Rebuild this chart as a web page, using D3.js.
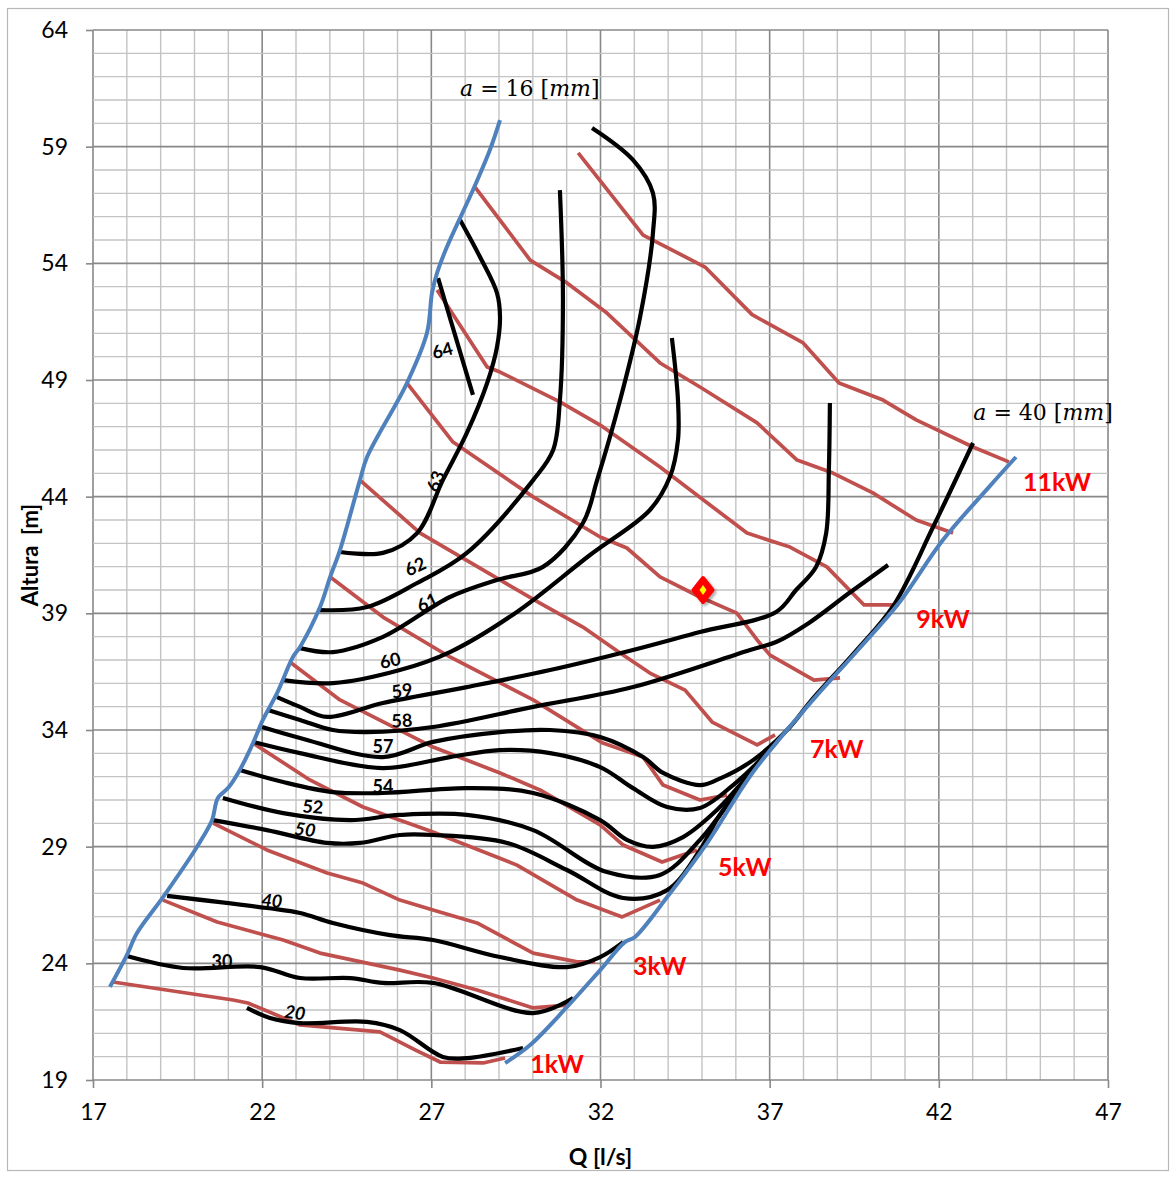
<!DOCTYPE html>
<html>
<head>
<meta charset="utf-8">
<script src="https://cdn.jsdelivr.net/npm/d3@7"></script>
<style>
  body { margin: 0; background: #fff; }
</style>
</head>
<body>
<svg id="chart" width="1176" height="1177" font-family="Lato, 'Open Sans', sans-serif"></svg>
<script>
// ─── DATA (Q [l/s], H [m]) ────────────────────────────────────────────────────
const xTicks = [17, 22, 27, 32, 37, 42, 47];
const yTicks = [19, 24, 29, 34, 39, 44, 49, 54, 59, 64];

// operating boundaries (blade opening a)
const edgeA16 = [[17.50,22.99],[18.00,24.35],[18.30,25.30],[19.07,26.84],[19.96,28.73],[20.25,29.41],
  [20.52,30.14],[20.69,31.09],[20.99,31.51],[21.34,32.29],[21.73,33.44],[22.02,34.43],[22.44,35.58],
  [22.91,37.13],[23.12,37.56],[23.71,39.27],[24.01,40.56],[24.30,41.71],[24.89,44.71],[25.10,45.70],
  [26.28,48.87],[26.87,51.01],[27.02,52.73],[27.17,53.59],[27.46,54.70],[28.23,57.14],[28.73,58.86],[29.03,60.14]];
const edgeA40 = [[29.18,19.73],[29.92,20.50],[31.01,22.13],[31.99,23.71],[32.72,24.91],[33.02,25.13],
  [33.97,26.84],[35.15,29.15],[36.51,32.20],[38.28,35.29],[39.61,37.43],[40.82,39.44],[42.12,42.14],[43.48,44.41],[44.28,45.70]];

// power lines, 1 kW ... 11 kW
const kw1 = [[17.59,23.20],[21.14,22.43],[21.58,22.30],[23.12,21.36],[25.48,21.06],[26.52,20.29],[27.26,19.77],[28.53,19.73],[29.18,19.94]];
const kw2 = [[19.07,26.71],[20.67,25.77],[22.62,25.00],[23.71,24.44],[26.07,23.71],[27.05,23.37],[28.35,22.86],[30.01,22.09],[31.01,22.21]];
const kw3 = [[20.55,30.01],[22.14,28.86],[23.92,27.87],[24.98,27.44],[26.07,26.71],[27.05,26.29],[28.35,25.73],[30.01,24.44],[31.31,24.06],[31.84,24.06]];
const kw4 = [[21.73,33.44],[23.41,31.86],[24.98,30.70],[27.05,29.63],[29.53,28.21],[31.31,26.71],[32.64,25.99],[33.76,26.71]];
const kw5 = [[22.82,36.91],[24.30,35.29],[27.05,33.27],[29.03,32.16],[30.21,31.43],[31.99,29.93],[32.67,29.07],[33.82,28.34],[34.85,28.86]];
const kw6 = [[24.01,40.56],[25.57,38.84],[27.55,37.13],[30.01,35.29],[32.07,33.44],[33.26,32.84],[33.85,31.64],[34.94,31.00],[35.74,31.21]];
const kw7 = [[24.89,44.71],[26.67,42.44],[29.03,40.43],[30.21,39.44],[31.48,38.41],[32.58,37.30],[33.46,36.44],[34.50,35.71],[35.30,34.34],[36.63,33.36],[37.16,33.79]];
const kw8 = [[26.28,48.87],[27.64,46.34],[30.01,43.99],[31.99,42.27],[32.78,41.80],[33.76,40.56],[34.94,39.70],[36.03,39.01],[36.63,37.86],[37.01,37.21],[38.31,36.14],[39.08,36.23]];
const kw9 = [[27.17,52.86],[28.65,49.56],[29.03,49.34],[30.80,48.06],[31.99,47.07],[33.76,45.27],[36.33,42.44],[37.60,41.84],[38.69,40.99],[39.79,39.36],[40.82,39.36]];
const kw10 = [[28.29,57.27],[29.92,54.14],[31.01,53.16],[32.19,51.87],[33.76,49.73],[34.94,48.70],[36.63,47.16],[37.81,45.57],[38.87,45.01],[40.05,44.16],[41.33,43.00],[42.42,42.44]];
const kw11 = [[31.34,58.73],[33.26,55.21],[35.09,53.84],[36.48,51.80],[37.99,50.59],[39.05,48.87],[40.35,48.14],[41.33,47.29],[43.01,46.13],[44.07,45.49]];

// efficiency contours [%]
const eta20 = [[21.55,22.09],[22.23,21.66],[23.12,21.44],[25.10,21.49],[26.07,21.14],[27.34,19.99],[28.05,19.94],[29.71,20.37]];
const eta30 = [[18.00,24.31],[19.66,23.80],[21.94,23.84],[23.12,23.37],[24.60,23.37],[25.57,23.16],[27.05,23.16],[30.01,21.87],[31.19,22.51]];
const eta40 = [[19.19,26.89],[22.14,26.37],[23.12,26.16],[24.09,25.73],[25.78,25.21],[27.05,25.00],[29.03,24.27],[31.01,23.84],[31.99,24.27],[32.67,24.91]];
const eta50 = [[20.55,30.14],[22.14,29.71],[23.92,29.16],[24.89,29.16],[26.07,29.50],[27.05,29.50],[29.24,29.16],[31.01,28.00],[32.67,26.80],[33.97,27.14],[34.94,28.86],[35.47,30.23],[36.15,31.64],[36.66,32.63]];
const eta52 = [[20.84,31.09],[22.62,30.44],[24.60,30.14],[26.07,30.36],[28.05,30.36],[30.01,29.71],[32.19,27.91],[33.76,27.79],[34.94,29.29],[35.53,30.36],[36.24,31.77],[36.86,32.93]];
const eta54 = [[21.34,32.29],[22.62,31.77],[24.09,31.34],[25.57,31.30],[28.05,31.51],[30.01,31.30],[31.99,30.14],[32.78,29.29],[33.55,28.99],[34.44,29.41],[35.44,30.57],[36.12,31.64],[36.95,33.06]];
const eta56 = [[21.73,33.49],[23.12,33.01],[25.57,32.37],[27.55,32.84],[29.03,33.14],[30.51,33.01],[31.99,32.41],[32.96,31.51],[33.97,30.70],[34.94,30.66],[35.92,31.64],[36.51,32.41],[37.25,33.57]];
const eta57 = [[22.00,34.13],[23.12,33.66],[25.57,32.84],[27.05,33.49],[29.03,33.91],[30.51,34.00],[31.99,33.70],[33.26,32.84],[33.85,32.16],[34.94,31.64],[35.44,31.86],[36.51,32.71],[37.60,34.13],[38.19,35.20],[39.52,37.34],[40.65,39.31],[41.83,42.70],[43.01,46.30]];
const eta58 = [[22.17,34.86],[23.12,34.43],[24.09,34.00],[25.10,33.91],[27.05,34.13],[30.01,34.99],[32.96,35.84],[36.42,37.43],[37.19,37.77],[38.16,38.59],[39.35,39.87],[40.50,41.07]];
const eta59 = [[22.44,35.41],[23.12,34.99],[23.92,34.56],[25.57,35.16],[28.05,35.84],[30.51,36.57],[32.96,37.43],[34.94,38.20],[37.19,39.06],[37.78,40.00],[38.37,40.99],[38.67,42.44],[38.75,45.14],[38.78,48.01]];
const eta60 = [[22.62,36.14],[24.09,36.01],[26.07,36.57],[27.55,37.34],[29.53,39.06],[31.69,41.50],[33.46,43.43],[34.05,44.84],[34.29,46.43],[34.29,48.14],[34.11,50.80]];
const eta61 = [[23.12,37.51],[24.09,37.34],[25.57,37.99],[27.55,39.70],[28.94,40.43],[30.30,40.99],[31.48,42.87],[31.90,44.71],[32.58,48.14],[33.17,51.70],[33.55,55.30],[33.55,57.01],[32.96,58.43],[31.75,59.80]];
const eta62 = [[23.71,39.14],[25.10,39.27],[26.58,40.30],[28.05,41.59],[30.01,44.71],[30.60,46.00],[30.80,48.14],[30.89,52.43],[30.80,57.14]];
const eta63 = [[24.30,41.63],[25.57,41.59],[26.58,42.44],[27.34,44.71],[28.05,46.73],[28.65,48.87],[28.94,50.41],[29.03,51.70],[28.94,52.73],[28.44,54.27],[27.85,55.86]];
const eta64 = [[27.20,53.37],[27.70,50.93],[28.23,48.36]];

// contour labels: text, anchor point
const etaLabels = [
  ["64", 27.32, 50.29], ["63", 27.11, 44.67], ["62", 26.52, 41.03], ["61", 26.87, 39.49],
  ["60", 25.78, 37.00], ["59", 26.13, 35.71], ["58", 26.13, 34.43], ["57", 25.57, 33.31],
  ["54", 25.57, 31.60], ["52", 23.50, 30.74], ["50", 23.27, 29.76], ["40", 22.29, 26.71],
  ["30", 20.81, 24.10], ["20", 22.97, 21.91]
];
const etaAngles = [-15, -70, -25, -25, -12, -8, -3, 0, 0, 5, 8, 5, 0, 8];
const etaItalic = ["50", "40", "20"];

const kwLabels = [["1kW", 29.92, 19.73], ["3kW", 32.96, 23.93], ["5kW", 35.47, 28.17],
  ["7kW", 38.19, 33.23], ["9kW", 41.33, 38.80], ["11kW", 44.49, 44.67]];
const openingLabels = [["16", 29.91, 61.51], ["40", 45.08, 47.63]];
const dutyPoint = [35.03, 40.00];

// ─── CHART ────────────────────────────────────────────────────────────────────
const svg = d3.select('#chart');
const x = d3.scaleLinear().domain([17, 47]).range([93, 1108]);
const y = d3.scaleLinear().domain([19, 64]).range([1080, 30]);

svg.append('rect').attr('x', 7.5).attr('y', 8.5).attr('width', 1161).attr('height', 1162)
  .attr('fill', '#fff').attr('stroke', '#b7b7b7').attr('stroke-width', 1.2);

// grid
const grid = svg.append('g');
d3.range(17, 48).forEach((v) => {
  const major = (v - 17) % 5 === 0;
  grid.append('line').attr('x1', x(v)).attr('x2', x(v)).attr('y1', y(19)).attr('y2', y(64))
    .attr('stroke', major ? '#888' : '#c3c3c3').attr('stroke-width', major ? 1.6 : 1.4);
});
d3.range(19, 65).forEach((v) => {
  const major = (v - 19) % 5 === 0;
  grid.append('line').attr('x1', x(17)).attr('x2', x(47)).attr('y1', y(v)).attr('y2', y(v))
    .attr('stroke', major ? '#888' : '#c3c3c3').attr('stroke-width', major ? 1.6 : 1.4);
});

// axes
const yAxis = svg.append('g').attr('transform', `translate(${x(17)},0)`)
  .call(d3.axisLeft(y).tickValues(yTicks).tickSize(7).tickPadding(18));
const xAxis = svg.append('g').attr('transform', `translate(0,${y(19)})`)
  .call(d3.axisBottom(x).tickValues(xTicks).tickSize(8).tickPadding(16));
[xAxis, yAxis].forEach((g) => {
  g.attr('font-family', null).attr('font-size', null);
  g.select('.domain').remove();
  g.selectAll('line').attr('stroke', '#888').attr('stroke-width', 1.6);
  g.selectAll('text').attr('font-size', 23).attr('fill', '#000');
});

svg.append('text').attr('x', x(32)).attr('y', 1165).attr('text-anchor', 'middle')
  .attr('font-size', 23).attr('font-weight', 'bold').text('Q [l/s]');
svg.append('text').attr('transform', 'translate(38,555) rotate(-90)').attr('text-anchor', 'middle')
  .attr('font-size', 22).attr('font-weight', 'bold').attr('xml:space', 'preserve').text('Altura  [m]');

// lines
const linear = d3.line().x((d) => x(d[0])).y((d) => y(d[1]));
const smooth = d3.line().x((d) => x(d[0])).y((d) => y(d[1])).curve(d3.curveCatmullRom.alpha(0.5));

const powerLines = [kw1, kw2, kw3, kw4, kw5, kw6, kw7, kw8, kw9, kw10, kw11];
svg.append('g').selectAll('path').data(powerLines).join('path')
  .attr('d', linear).attr('fill', 'none').attr('stroke', '#C0504D')
  .attr('stroke-width', 3.7).attr('stroke-linejoin', 'round');

const etaLines = [eta20, eta30, eta40, eta50, eta52, eta54, eta56, eta57, eta58, eta59, eta60, eta61, eta62, eta63, eta64];
svg.append('g').selectAll('path').data(etaLines).join('path')
  .attr('d', smooth).attr('fill', 'none').attr('stroke', '#000')
  .attr('stroke-width', 4.2).attr('stroke-linejoin', 'round');

svg.append('g').selectAll('path').data([edgeA16, edgeA40]).join('path')
  .attr('d', smooth).attr('fill', 'none').attr('stroke', '#4F81BD').attr('stroke-width', 4);

// labels
svg.append('g').selectAll('text').data(etaLabels).join('text')
  .attr('transform', (d, i) => `translate(${x(d[1])},${y(d[2])}) rotate(${etaAngles[i]})`)
  .attr('text-anchor', 'middle').attr('dominant-baseline', 'central')
  .attr('font-size', 18).attr('font-weight', 'bold')
  .attr('font-style', (d) => (etaItalic.includes(d[0]) ? 'italic' : 'normal'))
  .text((d) => d[0]);

svg.append('g').selectAll('text').data(kwLabels).join('text')
  .attr('x', (d) => x(d[1])).attr('y', (d) => y(d[2]))
  .attr('dominant-baseline', 'central').attr('font-size', 25).attr('font-weight', 'bold')
  .attr('fill', '#FF0000').text((d) => d[0]);

const op = svg.append('g').selectAll('text').data(openingLabels).join('text')
  .attr('x', (d) => x(d[1])).attr('y', (d) => y(d[2]))
  .attr('text-anchor', 'middle').attr('dominant-baseline', 'central')
  .attr('font-family', '"DejaVu Serif", serif').attr('font-size', 22).attr('xml:space', 'preserve');
op.append('tspan').attr('font-style', 'italic').text('a');
op.append('tspan').text((d) => ` = ${d[0]} [`);
op.append('tspan').attr('font-style', 'italic').text('mm');
op.append('tspan').text(']');

// duty point marker
const defs = svg.append('defs');
const f = defs.append('filter').attr('id', 'shadow').attr('x', '-50%').attr('y', '-50%').attr('width', '200%').attr('height', '200%');
f.append('feDropShadow').attr('dx', 2).attr('dy', 2).attr('stdDeviation', 1.5).attr('flood-color', '#000').attr('flood-opacity', 0.35);
const mk = svg.append('g').attr('transform', `translate(${x(dutyPoint[0])},${y(dutyPoint[1])})`);
mk.append('path').attr('d', 'M0,-12 L9.5,0 L0,12 L-9.5,0 Z').attr('fill', '#FF0000')
  .attr('stroke', '#FF0000').attr('stroke-width', 4).attr('stroke-linejoin', 'round').attr('filter', 'url(#shadow)');
mk.append('path').attr('d', 'M0,-5 L3.5,0 L0,5 L-3.5,0 Z').attr('fill', '#FFFF00');
</script>
</body>
</html>
